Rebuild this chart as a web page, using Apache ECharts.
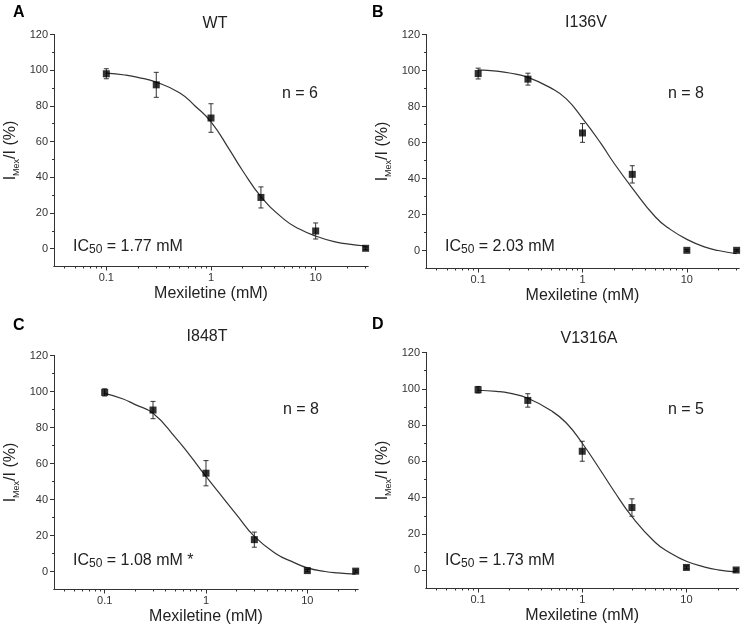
<!DOCTYPE html>
<html>
<head>
<meta charset="utf-8">
<script src="https://cdn.jsdelivr.net/npm/echarts@6/dist/echarts.min.js"></script>
<style>
html, body { margin: 0; padding: 0; background: #fff; }
#chart { width: 745px; height: 633px; }
</style>
</head>
<body>
<div id="chart"></div>
<script>
// ---------- data ----------
const concentrations = [0.1, 0.3, 1, 3, 10, 30];           // mM
const panelLetters = ['A', 'B', 'C', 'D'];
const panelTitles = ['WT', 'I136V', 'I848T', 'V1316A'];
const nLabels = ['n = 6', 'n = 8', 'n = 8', 'n = 5'];
const ic50Labels = ['1.77 mM', '2.03 mM', '1.08 mM *', '1.73 mM'];

const wtMean     = [98.0, 91.8, 73.2, 28.7, 9.9, 0.2];
const wtErr      = [2.8, 7.0, 8.0, 5.9, 4.5, 0.8];
const i136vMean  = [98.3, 95.2, 65.3, 42.3, 0.1, 0.1];
const i136vErr   = [3.0, 3.3, 5.2, 4.8, 0.5, 0.5];
const i848tMean  = [99.5, 89.7, 54.6, 17.7, 0.5, 0.2];
const i848tErr   = [2.0, 4.8, 7.0, 4.2, 0.6, 0.6];
const v1316aMean = [99.5, 93.6, 65.6, 34.6, 1.6, 0.2];
const v1316aErr  = [1.8, 3.7, 5.5, 4.8, 0.8, 0.6];

// fitted curves at these concentrations
const fitConc   = [0.1, 0.15, 0.2, 0.3, 0.5, 0.7, 1, 1.5, 2, 3, 5, 7, 10, 15, 20, 30];
const wtFit     = [98.4, 97.3, 96.0, 93.3, 87.4, 80.1, 71.1, 55.5, 43.8, 29.2, 16.4, 11.0, 7.1, 3.9, 2.7, 1.5];
const i136vFit  = [100.3, 99.6, 98.6, 96.2, 90.2, 84.2, 73.4, 59.5, 48.6, 34.7, 18.6, 11.6, 6.2, 1.9, 0.0, -1.8];
const i848tFit  = [99.0, 96.0, 92.7, 87.9, 74.4, 64.2, 52.8, 40.4, 31.6, 19.5, 9.6, 5.6, 2.0, 0.0, -0.8, -1.5];
const v1316aFit = [99.2, 98.6, 97.6, 94.8, 88.0, 81.3, 70.0, 55.0, 44.0, 29.6, 15.5, 9.6, 5.0, 1.8, 0.3, -0.8];

// tick labels
const yTickValues = [0, 20, 40, 60, 80, 100, 120];
const yMinorTickValues = [10, 30, 50, 70, 90, 110];
const xTickValues = [0.1, 1, 10];
const xMinorTickValues = [0.04, 0.05, 0.06, 0.07, 0.08, 0.09,
  0.2, 0.3, 0.4, 0.5, 0.6, 0.7, 0.8, 0.9,
  2, 3, 4, 5, 6, 7, 8, 9, 20, 30];

// ---------- layout / style ----------
const means = [wtMean, i136vMean, i848tMean, v1316aMean];
const errs = [wtErr, i136vErr, i848tErr, v1316aErr];
const fits = [wtFit, i136vFit, i848tFit, v1316aFit];

const FONT = "'Liberation Sans', Arial, sans-serif";
const AXIS_COLOR = '#333';
const TEXT_COLOR = '#222';

const gridBoxes = [
  { left: 54, top: 34.5, width: 314, height: 232 },
  { left: 426, top: 34.5, width: 313, height: 234 },
  { left: 54, top: 355.5, width: 304, height: 234 },
  { left: 426, top: 352.5, width: 312.5, height: 236 }
];
const titlePos = [[215, 24], [586, 23], [207, 337], [589, 339]];
const letterPos = [[13, 13], [372, 13], [13, 326], [372, 325]];
const nPos = [[300, 94], [686, 94], [301, 410], [686, 410]];
const icPos = [[73, 247], [445, 247], [73, 561], [445, 561]];

const X_MIN = 0.031623, X_MAX = 31.623;

const grids = [], xAxes = [], yAxes = [], series = [], graphics = [];

gridBoxes.forEach(function (g, i) {
  grids.push(Object.assign({ containLabel: false }, g));

  // main x axis (log)
  xAxes.push({
    type: 'log', logBase: 10, gridIndex: i, min: X_MIN, max: X_MAX, position: 'bottom',
    name: 'Mexiletine (mM)', nameLocation: 'middle', nameGap: 19,
    nameTextStyle: { fontFamily: FONT, fontSize: 16, color: TEXT_COLOR },
    axisLine: { show: true, onZero: false, lineStyle: { color: AXIS_COLOR, width: 1 } },
    axisTick: { show: true, inside: false, length: 4, customValues: xTickValues,
      lineStyle: { color: AXIS_COLOR, width: 1 } },
    axisLabel: { show: true, customValues: xTickValues, margin: 6,
      fontFamily: FONT, fontSize: 11, color: '#333',
      formatter: function (v) { return String(v); } },
    splitLine: { show: false }, minorTick: { show: false }
  });
  // minor x ticks
  xAxes.push({
    type: 'log', logBase: 10, gridIndex: i, min: X_MIN, max: X_MAX, position: 'bottom', offset: 0,
    axisLine: { show: true, onZero: false, lineStyle: { color: AXIS_COLOR, width: 1 } },
    axisTick: { show: true, inside: false, length: 2, customValues: xMinorTickValues,
      lineStyle: { color: AXIS_COLOR, width: 1 } },
    axisLabel: { show: false },
    splitLine: { show: false }
  });

  // main y axis
  yAxes.push({
    type: 'value', gridIndex: i, min: -10, max: 120, position: 'left',
    name: '{m|I}{s|Mex}{m|/I (%)}', nameLocation: 'middle', nameGap: 34, nameRotate: 90,
    nameTextStyle: {
      fontFamily: FONT, color: TEXT_COLOR,
      rich: {
        m: { fontFamily: FONT, fontSize: 16, lineHeight: 18, color: TEXT_COLOR, verticalAlign: 'middle' },
        s: { fontFamily: FONT, fontSize: 9, lineHeight: 9, color: TEXT_COLOR, verticalAlign: 'top', padding: [10, 0, 0, 0] }
      }
    },
    axisLine: { show: true, onZero: false, lineStyle: { color: AXIS_COLOR, width: 1 } },
    axisTick: { show: true, inside: false, length: 4, customValues: yTickValues,
      lineStyle: { color: AXIS_COLOR, width: 1 } },
    axisLabel: { show: true, customValues: yTickValues, margin: 6,
      fontFamily: FONT, fontSize: 11, color: '#333' },
    splitLine: { show: false }
  });
  // minor y ticks
  yAxes.push({
    type: 'value', gridIndex: i, min: -10, max: 120, position: 'left', offset: 0,
    axisLine: { show: true, onZero: false, lineStyle: { color: AXIS_COLOR, width: 1 } },
    axisTick: { show: true, inside: false, length: 2, customValues: yMinorTickValues,
      lineStyle: { color: AXIS_COLOR, width: 1 } },
    axisLabel: { show: false },
    splitLine: { show: false }
  });

  const xi = 2 * i, yi = 2 * i;

  // fitted curve
  series.push({
    type: 'line', xAxisIndex: xi, yAxisIndex: yi,
    data: fitConc.map(function (c, j) { return [c, fits[i][j]]; }),
    smooth: 0.5, showSymbol: false, symbol: 'none',
    lineStyle: { color: '#333', width: 1.2 }, z: 2, silent: true
  });
  // error bars
  series.push({
    type: 'custom', xAxisIndex: xi, yAxisIndex: yi,
    data: concentrations.map(function (c, j) {
      return [c, means[i][j] - errs[i][j], means[i][j] + errs[i][j]];
    }),
    encode: { x: 0, y: [1, 2] },
    renderItem: function (params, api) {
      const x = api.value(0);
      const pLo = api.coord([x, api.value(1)]);
      const pHi = api.coord([x, api.value(2)]);
      const cap = 2.5;
      const style = { stroke: '#333', lineWidth: 1 };
      return {
        type: 'group',
        children: [
          { type: 'line', shape: { x1: pLo[0], y1: pLo[1], x2: pHi[0], y2: pHi[1] }, style: style },
          { type: 'line', shape: { x1: pLo[0] - cap, y1: pLo[1], x2: pLo[0] + cap, y2: pLo[1] }, style: style },
          { type: 'line', shape: { x1: pHi[0] - cap, y1: pHi[1], x2: pHi[0] + cap, y2: pHi[1] }, style: style }
        ]
      };
    },
    z: 3, silent: true
  });
  // mean markers
  series.push({
    type: 'scatter', xAxisIndex: xi, yAxisIndex: yi,
    data: concentrations.map(function (c, j) { return [c, means[i][j]]; }),
    symbol: 'rect', symbolSize: 7,
    itemStyle: { color: '#000' }, z: 4, silent: true
  });

  // annotations
  graphics.push({
    type: 'text', x: letterPos[i][0], y: letterPos[i][1],
    style: { text: panelLetters[i], font: 'bold 16px ' + FONT, fill: '#000',
      align: 'left', verticalAlign: 'middle' }
  });
  graphics.push({
    type: 'text', x: titlePos[i][0], y: titlePos[i][1],
    style: { text: panelTitles[i], font: '16px ' + FONT, fill: TEXT_COLOR,
      align: 'center', verticalAlign: 'middle' }
  });
  graphics.push({
    type: 'text', x: nPos[i][0], y: nPos[i][1],
    style: { text: nLabels[i], font: '16px ' + FONT, fill: TEXT_COLOR,
      align: 'center', verticalAlign: 'middle' }
  });
  graphics.push({
    type: 'text', x: icPos[i][0], y: icPos[i][1],
    style: {
      text: '{m|IC}{s|50}{m| = ' + ic50Labels[i] + '}',
      align: 'left', verticalAlign: 'middle',
      rich: {
        m: { font: '16px ' + FONT, fontSize: 16, fontFamily: FONT, lineHeight: 18, fill: TEXT_COLOR, verticalAlign: 'middle' },
        s: { font: '12px ' + FONT, fontSize: 12, fontFamily: FONT, lineHeight: 12, fill: TEXT_COLOR, verticalAlign: 'top', padding: [6, 0, 0, 0] }
      }
    }
  });
});

const chart = echarts.init(document.getElementById('chart'), null, { renderer: 'canvas' });
chart.setOption({
  backgroundColor: '#ffffff',
  animation: false,
  textStyle: { fontFamily: FONT },
  grid: grids,
  xAxis: xAxes,
  yAxis: yAxes,
  series: series,
  graphic: graphics
});
</script>
</body>
</html>
